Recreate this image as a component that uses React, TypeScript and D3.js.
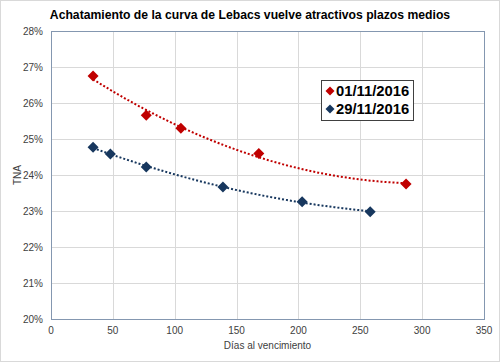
import React, { useEffect, useRef } from 'react'
import * as d3 from 'd3'

const seriesNames = ['01/11/2016', '29/11/2016']
const colors = ['#C00000', '#17375E']
const days1 = [34, 77, 105, 168, 287]
const tna1 = [26.75, 25.66, 25.3, 24.6, 23.75]
const days2 = [34, 48, 77, 139, 203, 258]
const tna2 = [24.77, 24.58, 24.22, 23.67, 23.26, 22.98]
const xTicks = [0, 50, 100, 150, 200, 250, 300, 350]
const yTicks = [20, 21, 22, 23, 24, 25, 26, 27, 28]

const W = 500
const H = 362
const margin = { top: 31, right: 16, bottom: 43, left: 51 }

// least squares quadratic, like the excel trend line
function polyFit(xs: number[], ys: number[]) {
  const n = xs.length
  let s = [0, 0, 0, 0, 0]
  let t = [0, 0, 0]
  for (let i = 0; i < n; i++) {
    for (let k = 0; k < 5; k++) s[k] += Math.pow(xs[i], k)
    for (let k = 0; k < 3; k++) t[k] += ys[i] * Math.pow(xs[i], k)
  }
  const m = [
    [s[0], s[1], s[2], t[0]],
    [s[1], s[2], s[3], t[1]],
    [s[2], s[3], s[4], t[2]],
  ]
  for (let c = 0; c < 3; c++) {
    for (let r = c + 1; r < 3; r++) {
      const f = m[r][c] / m[c][c]
      for (let k = c; k < 4; k++) m[r][k] -= f * m[c][k]
    }
  }
  const a = [0, 0, 0]
  for (let r = 2; r >= 0; r--) {
    let v = m[r][3]
    for (let k = r + 1; k < 3; k++) v -= m[r][k] * a[k]
    a[r] = v / m[r][r]
  }
  return (x: number) => a[0] + a[1] * x + a[2] * x * x
}

// square diamond, r = half diagonal
const diamondPath = (r: number) => `M0,${-r}L${r},0L0,${r}L${-r},0Z`

function Chart() {
  const ref = useRef<SVGSVGElement>(null)

  useEffect(() => {
    const svg = d3.select(ref.current)
    svg.selectAll('*').remove()
    const iw = W - margin.left - margin.right
    const ih = H - margin.top - margin.bottom

    const x = d3.scaleLinear().domain([0, 350]).range([margin.left, margin.left + iw])
    const y = d3.scaleLinear().domain([20, 28]).range([margin.top + ih, margin.top])

    svg
      .append('rect')
      .attr('x', 0.5)
      .attr('y', 0.5)
      .attr('width', W - 1)
      .attr('height', H - 1)
      .attr('fill', '#fff')
      .attr('stroke', '#d9d9d9')

    svg
      .append('text')
      .attr('x', 250)
      .attr('y', 19)
      .attr('text-anchor', 'middle')
      .style('font-family', 'Liberation Sans, Arial, sans-serif')
      .style('font-weight', 'bold')
      .style('font-size', '12.2px')
      .text('Achatamiento de la curva de Lebacs vuelve atractivos plazos medios')

    const grid = svg.append('g')
    grid
      .selectAll('line.h')
      .data(yTicks)
      .enter()
      .append('line')
      .attr('x1', margin.left)
      .attr('x2', margin.left + iw)
      .attr('y1', d => y(d) + 0.5)
      .attr('y2', d => y(d) + 0.5)
      .attr('stroke', '#d9d9d9')
    grid
      .selectAll('line.v')
      .data(xTicks)
      .enter()
      .append('line')
      .attr('y1', margin.top)
      .attr('y2', margin.top + ih)
      .attr('x1', d => Math.round(x(d)) + 0.5)
      .attr('x2', d => Math.round(x(d)) + 0.5)
      .attr('stroke', '#d9d9d9')

    svg
      .append('rect')
      .attr('x', margin.left + 0.5)
      .attr('y', margin.top + 0.5)
      .attr('width', iw)
      .attr('height', ih)
      .attr('fill', 'none')
      .attr('stroke', '#8497b0')

    const tickStyle = (s: any) =>
      s
        .style('font-family', 'Liberation Sans, Arial, sans-serif')
        .style('font-size', '10px')
        .attr('fill', '#404040')

    svg
      .append('g')
      .selectAll('text')
      .data(yTicks)
      .enter()
      .append('text')
      .attr('x', margin.left - 8)
      .attr('y', d => y(d) + 4)
      .attr('text-anchor', 'end')
      .call(tickStyle)
      .text(d => d + '%')

    svg
      .append('g')
      .selectAll('text')
      .data(xTicks)
      .enter()
      .append('text')
      .attr('x', d => x(d))
      .attr('y', margin.top + ih + 15)
      .attr('text-anchor', 'middle')
      .call(tickStyle)
      .text(d => d)

    svg
      .append('text')
      .attr('transform', `translate(21 ${y(24)}) rotate(-90)`)
      .attr('text-anchor', 'middle')
      .call(tickStyle)
      .text('TNA')

    svg
      .append('text')
      .attr('x', x(175) + 0)
      .attr('y', margin.top + ih + 30)
      .attr('text-anchor', 'middle')
      .call(tickStyle)
      .text('Días al vencimiento')

    const series = [
      { xs: days1, ys: tna1 },
      { xs: days2, ys: tna2 },
    ]
    const line = d3
      .line<number[]>()
      .x(d => x(d[0]))
      .y(d => y(d[1]))

    series.forEach((s, i) => {
      const fit = polyFit(s.xs, s.ys)
      const lo = d3.min(s.xs) as number
      const hi = d3.max(s.xs) as number
      const pts = d3.range(0, 101).map(k => {
        const xv = lo + ((hi - lo) * k) / 100
        return [xv, fit(xv)]
      })
      svg
        .append('path')
        .attr('d', line(pts))
        .attr('fill', 'none')
        .attr('stroke', colors[i])
        .attr('stroke-width', 2)
        .attr('stroke-dasharray', '2,2')

      svg
        .append('g')
        .selectAll('path')
        .data(s.xs.map((xv, j) => [xv, s.ys[j]]))
        .enter()
        .append('path')
        .attr('d', diamondPath(5.5))
        .attr('transform', d => `translate(${x(d[0])} ${y(d[1])})`)
        .attr('fill', colors[i])
    })

    const lg = svg.append('g').attr('transform', 'translate(321 80)')
    lg.append('rect')
      .attr('x', 0.5)
      .attr('y', 0.5)
      .attr('width', 92)
      .attr('height', 40)
      .attr('fill', '#fff')
      .attr('stroke', '#404040')
    seriesNames.forEach((n, i) => {
      lg.append('path')
        .attr('d', diamondPath(4.5))
        .attr('transform', `translate(9 ${11 + i * 18})`)
        .attr('fill', colors[i])
      lg.append('text')
        .attr('x', 15)
        .attr('y', 16 + i * 18)
        .style('font-family', 'Liberation Sans, Arial, sans-serif')
        .style('font-weight', 'bold')
        .style('font-size', '14.8px')
        .attr('fill', '#000')
        .text(n)
    })
  }, [])

  return <svg ref={ref} width={W} height={H} style={{ display: 'block' }} />
}

export default function App() {
  return (
    <div style={{ position: 'absolute', left: 0, top: 0 }}>
      <Chart />
    </div>
  )
}
